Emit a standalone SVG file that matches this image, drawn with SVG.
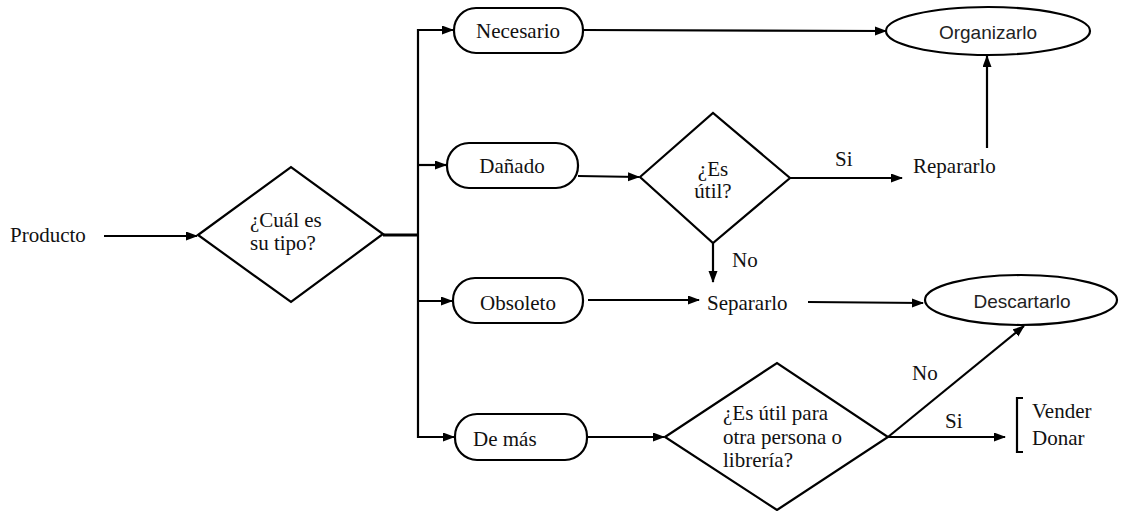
<svg xmlns="http://www.w3.org/2000/svg" width="1124" height="511" viewBox="0 0 1124 511">
<style>
.bg{fill:#ffffff}
.shape{fill:#ffffff;stroke:#000;stroke-width:2.2}
.ln{fill:none;stroke:#000;stroke-width:2.2}
.thick{stroke-width:3}
.t{font-family:"Liberation Serif","Times New Roman",serif;font-size:21px;fill:#111}
.s{font-family:"Liberation Sans",Arial,sans-serif;font-size:19px;fill:#222}
.m{text-anchor:middle}
</style>
<defs>
<marker id="ah" markerUnits="userSpaceOnUse" markerWidth="12" markerHeight="10" refX="11" refY="4.5" orient="auto">
<path d="M0,0 L12,4.5 L0,9 z" fill="#000"/>
</marker>
</defs>
<rect class="bg" x="0" y="0" width="1124" height="511"/>

<g id="connectors">
<path class="ln" d="M104,236 L197,236" marker-end="url(#ah)"/>
<path class="ln thick" d="M383,235 L418,235"/>
<path class="ln" d="M418,29 L418,438"/>
<path class="ln" d="M417,30 L453,30" marker-end="url(#ah)"/>
<path class="ln" d="M417,165 L446,165" marker-end="url(#ah)"/>
<path class="ln" d="M417,301 L452,301" marker-end="url(#ah)"/>
<path class="ln" d="M417,437 L454,437" marker-end="url(#ah)"/>
<path class="ln" d="M583,30 L886,31" marker-end="url(#ah)"/>
<path class="ln" d="M578,176 L639,177" marker-end="url(#ah)"/>
<path class="ln" d="M790,178 L902,178" marker-end="url(#ah)"/>
<path class="ln" d="M987,148 L987,56" marker-end="url(#ah)"/>
<path class="ln" d="M713,243 L713,282" marker-end="url(#ah)"/>
<path class="ln" d="M588,300 L699,300" marker-end="url(#ah)"/>
<path class="ln" d="M808,302 L923,303" marker-end="url(#ah)"/>
<path class="ln" d="M587,437 L664,437" marker-end="url(#ah)"/>
<path class="ln" d="M888,437 L1024,326" marker-end="url(#ah)"/>
<path class="ln" d="M888,437 L1005,437" marker-end="url(#ah)"/>
<text class="t" x="835" y="166">Si</text>
<text class="t" x="732" y="267">No</text>
<text class="t" x="912" y="380">No</text>
<text class="t" x="945" y="428">Si</text>
</g>

<g id="producto">
<text class="t" x="10" y="242">Producto</text>
</g>

<g id="tipo">
<polygon class="shape" points="198,235 291,167 383,234 291,302"/>
<text class="t" x="250" y="227">¿Cuál es</text>
<text class="t" x="250" y="250">su tipo?</text>
</g>

<g id="necesario">
<rect class="shape" x="454" y="8" width="129" height="45" rx="22" ry="22"/>
<text class="t m" x="518" y="38">Necesario</text>
</g>

<g id="danado">
<rect class="shape" x="447" y="143" width="131" height="45" rx="22" ry="22"/>
<text class="t m" x="512" y="173">Dañado</text>
</g>

<g id="obsoleto">
<rect class="shape" x="453" y="278" width="130" height="45" rx="22" ry="22"/>
<text class="t m" x="518" y="310">Obsoleto</text>
</g>

<g id="demas">
<rect class="shape" x="455" y="414" width="132" height="46" rx="22" ry="22"/>
<text class="t" x="473" y="446">De más</text>
</g>

<g id="esutil">
<polygon class="shape" points="640,177 713,113 790,178 713,243"/>
<text class="t m" x="713" y="176">¿Es</text>
<text class="t m" x="713" y="198">útil?</text>
</g>

<g id="esutilpara">
<polygon class="shape" points="665,437 777,363 888,437 777,510"/>
<text class="t" x="723" y="420">¿Es útil para</text>
<text class="t" x="723" y="444">otra persona o</text>
<text class="t" x="723" y="467">librería?</text>
</g>

<g id="organizarlo">
<ellipse class="shape" cx="988" cy="31" rx="102" ry="24"/>
<text class="s m" x="988" y="39">Organizarlo</text>
</g>

<g id="repararlo">
<text class="t" x="913" y="173">Repararlo</text>
</g>

<g id="separarlo">
<text class="t" x="707" y="310">Separarlo</text>
</g>

<g id="descartarlo">
<ellipse class="shape" cx="1021" cy="300" rx="96" ry="25"/>
<text class="s m" x="1022" y="308">Descartarlo</text>
</g>

<g id="vender-donar">
<path class="ln" d="M1023,398 L1017,398 L1017,452 L1023,452"/>
<text class="t" x="1032" y="418">Vender</text>
<text class="t" x="1032" y="445">Donar</text>
</g>
</svg>
